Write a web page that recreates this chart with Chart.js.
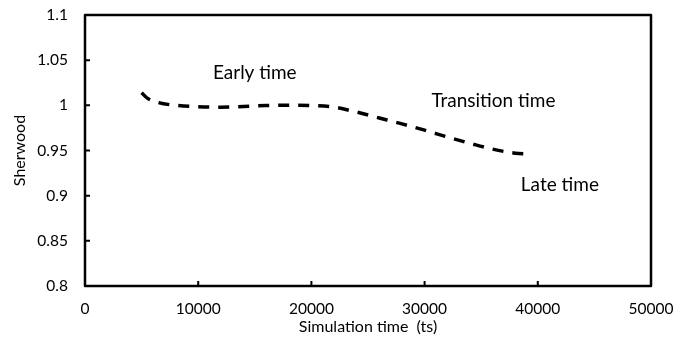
<!DOCTYPE html>
<html>
<head>
<meta charset="utf-8">
<title>Sherwood number vs simulation time</title>
<script src="https://cdn.jsdelivr.net/npm/chart.js@4.4.0/dist/chart.umd.min.js"></script>
<style>
  html, body { margin: 0; padding: 0; background: #fff; }
  #wrap { width: 688px; height: 348px; }
</style>
</head>
<body>
<div id="wrap"><canvas id="sherwood-chart"></canvas></div>
<script>
// Sherwood number over the run (time in ts)
const SIM_TIME = [5000, 5500, 6500, 8000, 10000, 12000, 14000, 16000, 18000, 20000,
  22000, 24000, 26000, 28000, 30000, 32000, 34000, 36000, 38000, 39400];
const SHERWOOD = [1.014, 1.008, 1.003, 1.0, 0.9985, 0.998, 0.9988, 0.9998, 1.0002, 0.9998,
  0.998, 0.9925, 0.986, 0.9795, 0.9725, 0.965, 0.958, 0.9515, 0.947, 0.946];

const X_TICKS = [0, 10000, 20000, 30000, 40000, 50000];
const Y_TICKS = [0.8, 0.85, 0.9, 0.95, 1, 1.05, 1.1];

// Regime labels, placed in data coordinates
const REGIME_NAMES = ["Early time", "Transition time", "Late time"];
const REGIME_AT_X = [11300, 30600, 38500];
const REGIME_AT_Y = [1.036, 1.005, 0.912];

const FONT = "Lato, 'Open Sans', sans-serif";
const INK = "#000";

// Box around the plot area plus short inward tick marks
const framePlugin = {
  id: "frame",
  afterDraw(chart) {
    const { ctx, chartArea: a, scales } = chart;
    ctx.save();
    ctx.strokeStyle = INK;
    ctx.lineWidth = 2.5;
    ctx.lineJoin = "round";
    ctx.strokeRect(a.left, a.top, a.right - a.left, a.bottom - a.top);

    ctx.lineWidth = 2;
    ctx.beginPath();
    X_TICKS.forEach((v) => {
      const px = scales.x.getPixelForValue(v);
      ctx.moveTo(px, a.bottom);
      ctx.lineTo(px, a.bottom - 5);
    });
    Y_TICKS.forEach((v) => {
      const py = scales.y.getPixelForValue(v);
      ctx.moveTo(a.left, py);
      ctx.lineTo(a.left + 5, py);
    });
    ctx.stroke();

    ctx.fillStyle = INK;
    ctx.font = "19px " + FONT;
    ctx.textAlign = "left";
    ctx.textBaseline = "middle";
    REGIME_NAMES.forEach((name, i) => {
      ctx.fillText(name, scales.x.getPixelForValue(REGIME_AT_X[i]), scales.y.getPixelForValue(REGIME_AT_Y[i]));
    });
    ctx.restore();
  },
};

new Chart(document.getElementById("sherwood-chart"), {
  type: "line",
  data: {
    datasets: [
      {
        label: "Sherwood",
        data: SIM_TIME.map((t, i) => ({ x: t, y: SHERWOOD[i] })),
        borderColor: INK,
        borderWidth: 3.5,
        borderDash: [11, 9],
        borderCapStyle: "butt",
        pointRadius: 0,
        cubicInterpolationMode: "monotone",
        fill: false,
      },
    ],
  },
  options: {
    responsive: true,
    maintainAspectRatio: false,
    animation: false,
    layout: { padding: { top: 15, right: 37, left: 0, bottom: 0 } },
    plugins: {
      legend: { display: false },
      tooltip: { enabled: false },
    },
    scales: {
      x: {
        type: "linear",
        min: 0,
        max: 50000,
        afterBuildTicks: (scale) => {
          scale.ticks = X_TICKS.map((v) => ({ value: v }));
        },
        afterFit: (scale) => {
          scale.height = 62;
          scale.paddingLeft = 0;
          scale.paddingRight = 0;
        },
        grid: { display: false, drawTicks: false },
        border: { display: false },
        ticks: {
          padding: 14,
          color: INK,
          font: { family: FONT, size: 15.5 },
          maxRotation: 0,
          callback: (v) => String(v),
        },
        title: {
          display: true,
          text: "Simulation time  (ts)",
          color: INK,
          font: { family: FONT, size: 16 },
          padding: { top: 0, bottom: 12 },
        },
      },
      y: {
        type: "linear",
        min: 0.8,
        max: 1.1,
        afterBuildTicks: (scale) => {
          scale.ticks = Y_TICKS.map((v) => ({ value: v }));
        },
        afterFit: (scale) => {
          scale.width = 85;
          scale.paddingTop = 0;
          scale.paddingBottom = 0;
        },
        grid: { display: false, drawTicks: false },
        border: { display: false },
        ticks: {
          padding: 17,
          color: INK,
          font: { family: FONT, size: 15.5 },
          callback: (v) => String(Number(v.toFixed(2))),
        },
        title: {
          display: true,
          text: "Sherwood",
          color: INK,
          font: { family: FONT, size: 16 },
          padding: { top: 10, bottom: 0 },
        },
      },
    },
  },
  plugins: [framePlugin],
});
</script>
</body>
</html>
